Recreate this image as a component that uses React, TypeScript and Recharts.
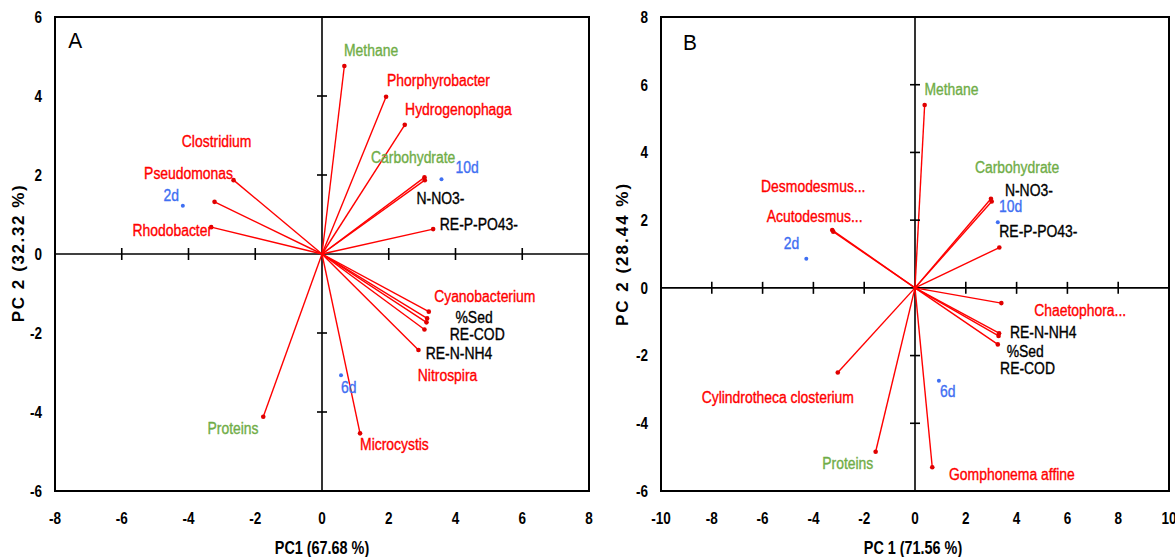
import React from 'react';
import { ScatterChart, Scatter, XAxis, YAxis, ReferenceLine, ReferenceArea } from 'recharts';

// ---------- Panel A data ----------
const aLoadNames = ['Methane', 'Phorphyrobacter', 'Hydrogenophaga', 'Carbohydrate', 'N-NO3-', 'RE-P-PO43-', 'Pseudomonas', 'Clostridium', 'Rhodobacter', 'Proteins', 'Cyanobacterium', '%Sed', 'Nitrospira', 'RE-COD', 'RE-N-NH4', 'Microcystis'];
const aLoadX = [0.67, 1.92, 2.48, 3.07, 3.08, 3.33, -2.65, -3.22, -3.32, -1.76, 3.2, 3.15, 3.13, 3.07, 2.89, 1.14];
const aLoadY = [4.76, 3.98, 3.27, 1.94, 1.87, 0.63, 1.87, 1.32, 0.68, -4.12, -1.46, -1.63, -1.73, -1.91, -2.43, -4.54];
const aSampleNames = ['2d', '6d', '10d'];
const aSampleX = [-4.17, 0.57, 3.58];
const aSampleY = [1.22, -3.07, 1.89];
const aLabelText = ['A', 'Methane', 'Phorphyrobacter', 'Hydrogenophaga', 'Carbohydrate', '10d', 'N-NO3-', 'RE-P-PO43-', 'Clostridium', 'Pseudomonas', '2d', 'Rhodobacter', 'Proteins', 'Cyanobacterium', '%Sed', 'RE-COD', 'RE-N-NH4', 'Nitrospira', '6d', 'Microcystis'];
const aLabelKind = ['letter', 'chem', 'bio', 'bio', 'chem', 'sample', 'param', 'param', 'bio', 'bio', 'sample', 'bio', 'chem', 'bio', 'param', 'param', 'param', 'bio', 'sample', 'bio'];
const aLabelX = [-7.6, 0.66, 1.95, 2.49, 1.47, 4.0, 2.83, 3.53, -4.2, -5.33, -4.75, -5.68, -3.43, 3.36, 4.0, 3.83, 3.11, 2.87, 0.57, 1.14];
const aLabelY = [5.42, 5.16, 4.41, 3.67, 2.44, 2.2, 1.4, 0.75, 2.86, 2.04, 1.48, 0.61, -4.41, -1.08, -1.61, -2.03, -2.51, -3.07, -3.37, -4.82];
const aXTicks = [-8, -6, -4, -2, 0, 2, 4, 6, 8];
const aYTicks = [-6, -4, -2, 0, 2, 4, 6];
const aInnerXTicks = [-6, -4, -2, 2, 4, 6];
const aInnerYTicks = [-4, -2, 2, 4];

// ---------- Panel B data ----------
const bLoadNames = ['Methane', 'Carbohydrate', 'N-NO3-', 'RE-P-PO43-', 'Desmodesmus...', 'Acutodesmus...', 'Cylindrotheca closterium', 'Proteins', 'Chaetophora...', 'RE-N-NH4', '%Sed', 'RE-COD', 'Gomphonema affine'];
const bLoadX = [0.38, 2.99, 3.02, 3.32, -3.26, -3.22, -3.04, -1.55, 3.4, 3.31, 3.29, 3.26, 0.68];
const bLoadY = [5.4, 2.63, 2.55, 1.19, 1.71, 1.66, -2.5, -4.84, -0.45, -1.34, -1.42, -1.67, -5.3];
const bSampleNames = ['2d', '6d', '10d'];
const bSampleX = [-4.28, 0.94, 3.26];
const bSampleY = [0.86, -2.74, 1.94];
const bLabelText = ['B', 'Methane', 'Carbohydrate', 'N-NO3-', '10d', 'RE-P-PO43-', 'Desmodesmus...', 'Acutodesmus...', '2d', 'Cylindrotheca closterium', 'Proteins', 'Chaetophora...', 'RE-N-NH4', '%Sed', 'RE-COD', '6d', 'Gomphonema affine'];
const bLabelKind = ['letter', 'chem', 'chem', 'param', 'sample', 'param', 'bio', 'bio', 'sample', 'bio', 'chem', 'bio', 'param', 'param', 'param', 'sample', 'bio'];
const bLabelX = [-9.13, 0.37, 2.36, 3.54, 3.31, 3.32, -6.06, -5.84, -5.17, -8.4, -3.65, 4.69, 3.74, 3.61, 3.35, 0.98, 1.34];
const bLabelY = [7.27, 5.88, 3.56, 2.89, 2.4, 1.68, 3.01, 2.11, 1.32, -3.24, -5.18, -0.67, -1.32, -1.86, -2.37, -3.06, -5.49];
const bXTicks = [-10, -8, -6, -4, -2, 0, 2, 4, 6, 8, 10];
const bYTicks = [-6, -4, -2, 0, 2, 4, 6, 8];
const bInnerXTicks = [-8, -6, -4, -2, 2, 4, 6, 8];
const bInnerYTicks = [-4, -2, 2, 4, 6];

const SANS = "'Liberation Sans', Arial, sans-serif";
const COLORS: Record<string, string> = {
  bio: '#FF0000',
  chem: '#70AD47',
  param: '#000000',
  sample: '#3F6FF2',
  letter: '#000000',
};

type BiplotProps = {
  width: number;
  height: number;
  margin: { top: number; right: number; bottom: number; left: number };
  xDomain: [number, number];
  yDomain: [number, number];
  xTicks: number[];
  yTicks: number[];
  innerXTicks: number[];
  innerYTicks: number[];
  loadNames: string[];
  loadX: number[];
  loadY: number[];
  sampleNames: string[];
  sampleX: number[];
  sampleY: number[];
  labelText: string[];
  labelKind: string[];
  labelX: number[];
  labelY: number[];
};

function NarrowTick(props: any) {
  const { x, y, payload, textAnchor, verticalAnchor } = props;
  const dy = verticalAnchor === 'start' ? '0.71em' : '0.355em';
  return (
    <g transform={`translate(${x},${y}) scale(0.82,1)`}>
      <text x={0} y={0} dy={dy} textAnchor={textAnchor} fill="#000" fontSize={16.5} fontWeight={700} fontFamily={SANS}>
        {payload.value}
      </text>
    </g>
  );
}

function Biplot(p: BiplotProps) {
  const loads = p.loadNames.map((n, i) => ({ name: n, x: p.loadX[i], y: p.loadY[i] }));
  const samples = p.sampleNames.map((n, i) => ({ name: n, x: p.sampleX[i], y: p.sampleY[i] }));
  const labels = p.labelText.map((t, i) => ({ text: t, kind: p.labelKind[i], x: p.labelX[i], y: p.labelY[i] }));
  const hTicks = p.innerXTicks.map((v) => ({ x: v, y: 0 }));
  const vTicks = p.innerYTicks.map((v) => ({ x: 0, y: v }));

  return (
    <ScatterChart width={p.width} height={p.height} margin={p.margin}>
      <XAxis
        type="number"
        dataKey="x"
        domain={p.xDomain}
        ticks={p.xTicks}
        allowDataOverflow
        axisLine={false}
        tickLine={false}
        tickSize={6}
        tickMargin={15}
        height={66}
        interval={0}
        tick={<NarrowTick />}
      />
      <YAxis
        type="number"
        dataKey="y"
        domain={p.yDomain}
        ticks={p.yTicks}
        allowDataOverflow
        axisLine={false}
        tickLine={false}
        tickSize={6}
        tickMargin={7}
        width={40}
        interval={0}
        tick={<NarrowTick />}
      />
      <ReferenceArea x1={p.xDomain[0]} x2={p.xDomain[1]} y1={p.yDomain[0]} y2={p.yDomain[1]} fill="none" stroke="#000" strokeWidth={2} />
      <ReferenceLine x={0} stroke="#000" strokeWidth={1.6} />
      <ReferenceLine y={0} stroke="#000" strokeWidth={1.6} />
      <Scatter
        data={hTicks}
        isAnimationActive={false}
        shape={(s: any) => <line x1={s.cx} x2={s.cx} y1={s.cy - 6} y2={s.cy + 6} stroke="#000" strokeWidth={1.6} />}
      />
      <Scatter
        data={vTicks}
        isAnimationActive={false}
        shape={(s: any) => <line x1={s.cx - 5} x2={s.cx + 5} y1={s.cy} y2={s.cy} stroke="#000" strokeWidth={1.6} />}
      />
      {loads.map((d) => (
        <ReferenceLine
          key={d.name}
          segment={[{ x: 0, y: 0 }, { x: d.x, y: d.y }]}
          stroke="#FF0000"
          strokeWidth={1.4}
        />
      ))}
      <Scatter
        data={loads}
        isAnimationActive={false}
        shape={(s: any) => <circle cx={s.cx} cy={s.cy} r={2.3} fill="#E00000" />}
      />
      <Scatter
        data={samples}
        isAnimationActive={false}
        shape={(s: any) => <circle cx={s.cx} cy={s.cy} r={2} fill="#3F6FF2" />}
      />
      <Scatter
        data={labels}
        isAnimationActive={false}
        shape={(s: any) => {
          const k = s.payload.kind;
          const isLetter = k === 'letter';
          return (
            <g transform={`translate(${s.cx},${s.cy}) scale(${isLetter ? 0.95 : 0.87},1)`}>
              <text
                x={0}
                y={0}
                dy="0.36em"
                textAnchor="start"
                fill={COLORS[k]}
                stroke={isLetter ? 'none' : COLORS[k]}
                strokeWidth={0.35}
                fontSize={isLetter ? 22 : 16}
                fontFamily={SANS}
                fontWeight={400}
              >
                {s.payload.text}
              </text>
            </g>
          );
        }}
      />
    </ScatterChart>
  );
}

const titleBase: React.CSSProperties = {
  position: 'absolute',
  whiteSpace: 'nowrap',
  fontWeight: 700,
  color: '#000',
  fontFamily: SANS,
  fontSize: 17,
  lineHeight: '20px',
};

export default function App() {
  return (
    <div style={{ position: 'absolute', left: 0, top: 0, width: 1175, height: 557, background: '#fff', overflow: 'hidden' }}>
      <div style={{ position: 'absolute', left: 0, top: 0 }}>
        <Biplot
          width={600}
          height={557}
          margin={{ top: 17, right: 11, bottom: 0, left: 15 }}
          xDomain={[-8, 8]}
          yDomain={[-6, 6]}
          xTicks={aXTicks}
          yTicks={aYTicks}
          innerXTicks={aInnerXTicks}
          innerYTicks={aInnerYTicks}
          loadNames={aLoadNames}
          loadX={aLoadX}
          loadY={aLoadY}
          sampleNames={aSampleNames}
          sampleX={aSampleX}
          sampleY={aSampleY}
          labelText={aLabelText}
          labelKind={aLabelKind}
          labelX={aLabelX}
          labelY={aLabelY}
        />
      </div>
      <div style={{ position: 'absolute', left: 600, top: 0 }}>
        <Biplot
          width={575}
          height={557}
          margin={{ top: 17, right: 6, bottom: 0, left: 21 }}
          xDomain={[-10, 10]}
          yDomain={[-6, 8]}
          xTicks={bXTicks}
          yTicks={bYTicks}
          innerXTicks={bInnerXTicks}
          innerYTicks={bInnerYTicks}
          loadNames={bLoadNames}
          loadX={bLoadX}
          loadY={bLoadY}
          sampleNames={bSampleNames}
          sampleX={bSampleX}
          sampleY={bSampleY}
          labelText={bLabelText}
          labelKind={bLabelKind}
          labelX={bLabelX}
          labelY={bLabelY}
        />
      </div>
      <div style={{ ...titleBase, fontSize: 18, left: 322, top: 548, transform: 'translate(-50%, -50%) scaleX(0.8)' }}>PC1 (67.68 %)</div>
      <div style={{ ...titleBase, fontSize: 18, left: 913, top: 548, transform: 'translate(-50%, -50%) scaleX(0.8)' }}>PC 1 (71.56 %)</div>
      <div style={{ ...titleBase, left: 19, top: 253, transform: 'translate(-50%, -50%) rotate(-90deg)', letterSpacing: 1.6 }}>PC 2 (32.32 %)</div>
      <div style={{ ...titleBase, left: 623, top: 254, transform: 'translate(-50%, -50%) rotate(-90deg)', letterSpacing: 2 }}>PC 2 (28.44 %)</div>
    </div>
  );
}
